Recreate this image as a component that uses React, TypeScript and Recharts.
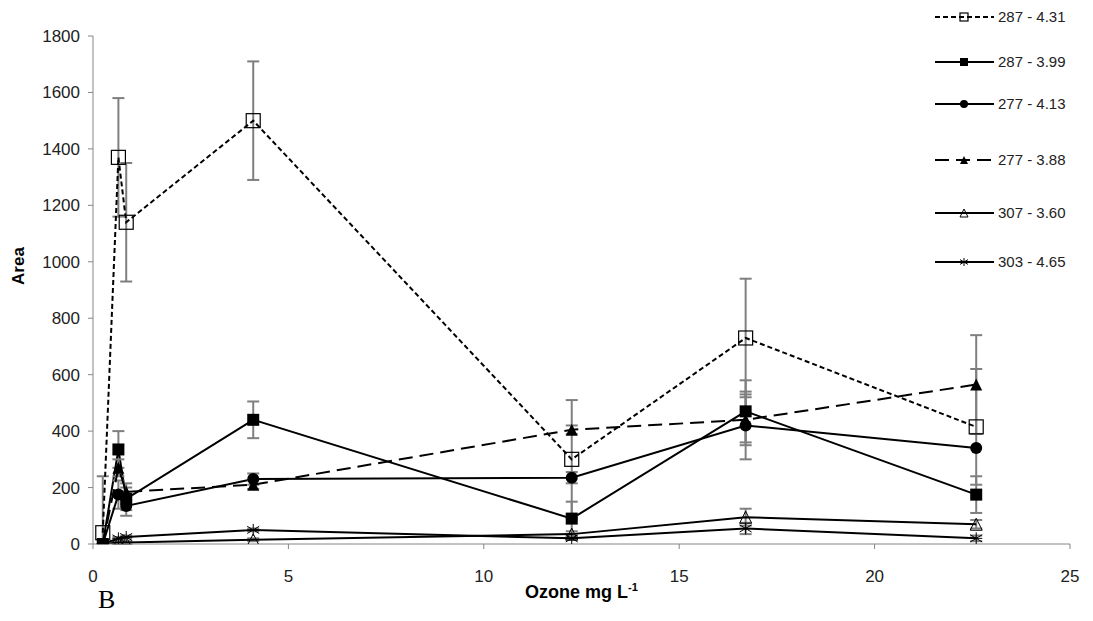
import React from "react";
import { LineChart, Line, XAxis, YAxis, ErrorBar, Legend, Label } from "recharts";

// ozone dose (mg/L) at each sampling point
const OZONE = [0.25, 0.65, 0.85, 4.1, 12.25, 16.7, 22.6];

const SERIES_NAMES = ["287 - 4.31", "287 - 3.99", "277 - 4.13", "277 - 3.88", "307 - 3.60", "303 - 4.65"];

// peak areas, one list per compound
const AREA_287_431 = [40, 1370, 1140, 1500, 300, 730, 415];
const AREA_287_399 = [0, 335, 160, 440, 90, 470, 175];
const AREA_277_413 = [0, 175, 135, 230, 235, 420, 340];
const AREA_277_388 = [0, 270, 185, 210, 405, 440, 565];
const AREA_307_360 = [0, 5, 5, 15, 35, 95, 70];
const AREA_303_465 = [0, 20, 25, 50, 20, 55, 20];

// standard deviations (null = no bar drawn, [low, high] where the bar stops at zero)
const ERR_287_431: (number | number[] | null)[] = [[40, 200], 210, 210, 210, 210, 210, 205];
const ERR_287_399 = [null, 65, 40, 65, 60, 110, 65];
const ERR_277_413 = [null, 50, 35, 20, 20, 120, null];
const ERR_277_388 = [null, 30, 30, 15, 15, 90, 175];
const ERR_307_360 = [null, 5, 5, 5, 10, 30, 15];
const ERR_303_465 = [null, 5, 5, 5, 5, 20, 10];

const X_TICKS = [0, 5, 10, 15, 20, 25];
const Y_TICKS = [0, 200, 400, 600, 800, 1000, 1200, 1400, 1600, 1800];

const AREAS = [AREA_287_431, AREA_287_399, AREA_277_413, AREA_277_388, AREA_307_360, AREA_303_465];
const ERRS = [ERR_287_431, ERR_287_399, ERR_277_413, ERR_277_388, ERR_307_360, ERR_303_465];

const data = OZONE.map((x, i) => {
  const row: Record<string, any> = { x };
  AREAS.forEach((a, k) => {
    row[`s${k}`] = a[i];
    row[`e${k}`] = ERRS[k][i];
  });
  return row;
});

type Shape = "openSquare" | "square" | "circle" | "triangle" | "openTriangle" | "star";

const STYLES: { shape: Shape; dash?: string }[] = [
  { shape: "openSquare", dash: "5 3" },
  { shape: "square" },
  { shape: "circle" },
  { shape: "triangle", dash: "14 7" },
  { shape: "openTriangle" },
  { shape: "star" },
];

// legend rows, y of each label centre
const LEGEND_Y = [17, 62, 104, 160, 213, 262];

const FONT = "'Liberation Sans', Arial, sans-serif";
const AXIS = "#868686";
const ERR_COLOR = "#7f7f7f";

function Marker({ shape, cx, cy, s }: { shape: Shape; cx: number; cy: number; s: number }) {
  const h = s / 2;
  switch (shape) {
    case "openSquare":
      return <rect x={cx - h} y={cy - h} width={s} height={s} fill="none" stroke="#000" strokeWidth={1.2} />;
    case "square":
      return <rect x={cx - h} y={cy - h} width={s} height={s} fill="#000" />;
    case "circle":
      return <circle cx={cx} cy={cy} r={h} fill="#000" />;
    case "triangle":
      return <polygon points={`${cx},${cy - h} ${cx + h},${cy + h} ${cx - h},${cy + h}`} fill="#000" />;
    case "openTriangle":
      return (
        <polygon
          points={`${cx},${cy - h} ${cx + h},${cy + h} ${cx - h},${cy + h}`}
          fill="none"
          stroke="#000"
          strokeWidth={1}
        />
      );
    case "star":
      return (
        <g stroke="#000" strokeWidth={1}>
          <line x1={cx} y1={cy - h} x2={cx} y2={cy + h} />
          <line x1={cx - h} y1={cy - h * 0.6} x2={cx + h} y2={cy + h * 0.6} />
          <line x1={cx - h} y1={cy + h * 0.6} x2={cx + h} y2={cy - h * 0.6} />
          <line x1={cx - h} y1={cy} x2={cx + h} y2={cy} />
        </g>
      );
  }
}

function renderLegend() {
  return (
    <svg width={163} height={280}>
      {SERIES_NAMES.map((name, k) => {
        const y = LEGEND_Y[k];
        return (
          <g key={name}>
            <line x1={5} y1={y} x2={64} y2={y} stroke="#000" strokeWidth={2} strokeDasharray={STYLES[k].dash} />
            <Marker shape={STYLES[k].shape} cx={34} cy={y} s={8} />
            <text x={68} y={y + 5} fontFamily={FONT} fontSize={15} fill="#222">
              {name}
            </text>
          </g>
        );
      })}
    </svg>
  );
}

function XTitle(props: any) {
  const vb = props.viewBox || {};
  const cx = vb.x + vb.width / 2;
  return (
    <text x={cx} y={598} textAnchor="middle" fontFamily={FONT} fontSize={18} fontWeight="bold" fill="#000">
      Ozone mg L<tspan dy={-7} fontSize={11}>-1</tspan>
    </text>
  );
}

function YTitle() {
  return (
    <text
      x={0}
      y={0}
      transform="translate(24,266) rotate(-90)"
      textAnchor="middle"
      fontFamily={FONT}
      fontSize={17}
      fontWeight="bold"
      fill="#000"
    >
      Area
    </text>
  );
}

export default function App() {
  return (
    <div style={{ position: "absolute", left: 0, top: 0, width: 1093, height: 621, background: "#fff" }}>
      <LineChart width={1093} height={621} data={data} margin={{ top: 36, right: 23, bottom: 47, left: 33 }}>
        <XAxis
          dataKey="x"
          type="number"
          domain={[0, 25]}
          ticks={X_TICKS}
          allowDataOverflow
          height={30}
          stroke={AXIS}
          tickSize={5}
          tickMargin={21}
          tick={{ fontSize: 17, fill: "#222", fontFamily: FONT }}
        >
          <Label content={<XTitle />} />
        </XAxis>
        <YAxis
          type="number"
          domain={[0, 1800]}
          ticks={Y_TICKS}
          allowDataOverflow
          width={60}
          stroke={AXIS}
          tickSize={5}
          tickMargin={8}
          tick={{ fontSize: 17, fill: "#222", fontFamily: FONT }}
        >
          <Label content={<YTitle />} />
        </YAxis>
        <Legend
          layout="horizontal"
          verticalAlign="middle"
          align="center"
          content={renderLegend}
          wrapperStyle={{ position: "absolute", left: 930, top: 0, width: 163, height: 280 }}
        />
        {SERIES_NAMES.map((name, k) => (
          <Line
            key={name}
            name={name}
            dataKey={`s${k}`}
            stroke="#000"
            strokeWidth={2}
            strokeDasharray={STYLES[k].dash}
            isAnimationActive={false}
            dot={(p: any) => (
              <Marker key={`${k}-${p.index}`} shape={STYLES[k].shape} cx={p.cx} cy={p.cy} s={k === 0 ? 14 : 12} />
            )}
            activeDot={false}
          >
            <ErrorBar dataKey={`e${k}`} direction="y" width={6} stroke={ERR_COLOR} strokeWidth={2} />
          </Line>
        ))}
      </LineChart>
      <div
        style={{
          position: "absolute",
          left: 98,
          top: 585,
          fontFamily: "'Liberation Serif', 'DejaVu Serif', serif",
          fontSize: 26,
          color: "#000",
        }}
      >
        B
      </div>
    </div>
  );
}
